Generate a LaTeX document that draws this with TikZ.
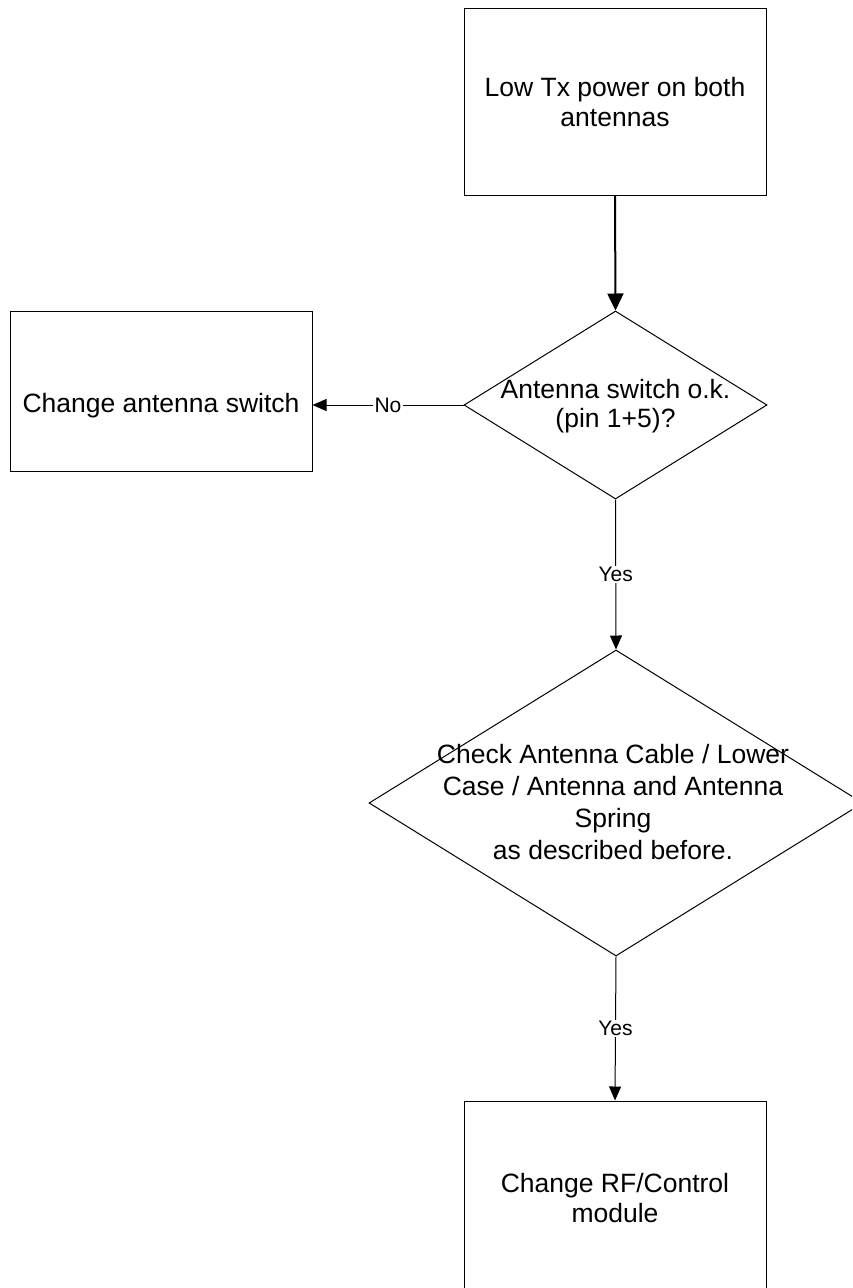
\documentclass[tikz,border=0pt]{standalone}
\usepackage{fontspec}
\setmainfont{Liberation Sans}
\usetikzlibrary{shapes.geometric,arrows.meta}
\begin{document}
\begin{tikzpicture}[x=1pt,y=-1pt,
  boxnode/.style={draw=black,line width=1pt,rectangle,inner sep=0pt,fill=none},
  dianode/.style={draw=black,line width=1pt,diamond,inner sep=0pt},
  txt/.style={align=center,font=\fontsize{26.5}{30}\selectfont,inner sep=0pt},
  lbl/.style={fill=white,font=\fontsize{21}{24}\selectfont,inner sep=1.5pt},
  conn/.style={draw=black,line width=1pt,-{Triangle[length=14pt,width=12pt]}},
  thickconn/.style={draw=black,line width=2pt,-{Triangle[length=17pt,width=16pt]}}]
\clip (0,0) rectangle (852,1288);
\fill[white] (0,0) rectangle (852,1288);
% top box
\node[boxnode,minimum width=302pt,minimum height=187pt] (top) at (615,101.5) {};
\node[txt] (toptxt) at (615,102) {Low Tx power on both\\antennas};
% diamond 1
\node[dianode,minimum width=303pt,minimum height=188pt] (d1) at (615.5,405) {};
\node[txt,font=\fontsize{26.5}{29}\selectfont] (d1txt) at (615.5,406) {Antenna switch o.k.\\(pin 1+5)?};
% left box
\node[boxnode,minimum width=302pt,minimum height=160pt] (lbox) at (161,391) {};
\node[txt] (lboxtxt) at (161,406) {Change antenna switch};
% diamond 2
\node[dianode,minimum width=494pt,minimum height=306pt] (d2) at (616,803) {};
\node[txt,font=\fontsize{26.5}{32}\selectfont] (d2txt) at (613,802) {Check Antenna Cable / Lower\\Case / Antenna and Antenna\\Spring\\as described before.};
% bottom box
\node[boxnode,minimum width=302pt,minimum height=194pt] (bot) at (615,1198) {};
\node[txt] (bottxt) at (615,1198) {Change RF/Control\\module};
% connectors
\draw[thickconn] (top.south) -- (d1.north);
\draw[conn] (d1.west) -- node[lbl] {No} (lbox.east |- d1.west);
\draw[conn] (d1.south) -- node[lbl] {Yes} (d2.north);
\draw[conn] (d2.south) -- node[lbl] {Yes} (bot.north);
\end{tikzpicture}
\end{document}
